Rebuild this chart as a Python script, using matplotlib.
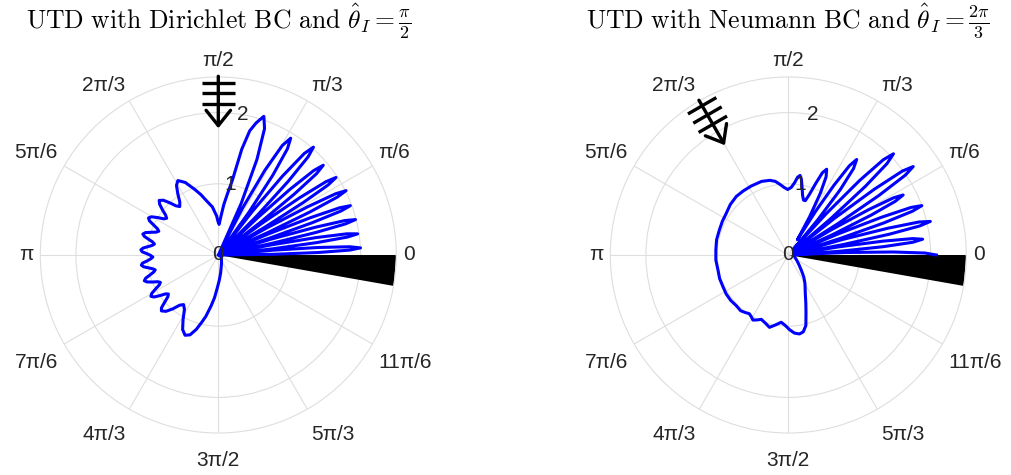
import numpy as np
import matplotlib.pyplot as plt

plt.rcParams['mathtext.fontset'] = 'cm'
plt.rcParams['font.family'] = ['Liberation Sans', 'DejaVu Sans']

# |E| versus observation angle (deg); wedge faces at 0 and 350 deg
dir_theta = [
    0, 0.72, 1.43, 2.15, 2.87, 3.59, 4.30, 5.02,
    5.74, 6.46, 7.19, 7.91, 8.63, 9.36, 10.09, 10.81,
    11.54, 12.28, 13.01, 13.75, 14.48, 15.23, 15.97, 16.72,
    17.46, 18.22, 18.98, 19.73, 20.49, 21.26, 22.04, 22.81,
    23.58, 24.37, 25.16, 25.95, 26.74, 27.56, 28.37, 29.19,
    30.0, 30.84, 31.69, 32.53, 33.37, 34.25, 35.12, 36.0,
    36.87, 37.79, 38.71, 39.62, 40.54, 41.51, 42.49, 43.46,
    44.43, 45.47, 46.51, 47.55, 48.59, 49.73, 50.86, 52.0,
    53.13, 54.40, 55.67, 56.94, 58.21, 59.70, 61.19, 62.67,
    64.16, 66.07, 67.99, 69.9, 71.81, 74.0, 75.8, 77.5,
    79.4, 81.5, 83.8, 86.0, 88.5, 90.5, 92.5, 97.0,
    102.3, 106.0, 109.8, 114.5, 118.5, 121.0, 123.5, 126.0,
    128.5, 130.7, 132.9, 135.1, 137.3, 139.1, 141.0, 142.8,
    144.6, 146.5, 148.3, 150.2, 152.0, 153.6, 155.1, 156.7,
    158.2, 159.8, 161.4, 162.9, 164.5, 165.9, 167.4, 168.8,
    170.3, 171.8, 173.3, 174.7, 176.2, 177.6, 179.0, 180.4,
    181.8, 183.2, 184.7, 186.1, 187.5, 189.0, 190.4, 191.9,
    193.3, 194.8, 196.3, 197.7, 199.2, 200.7, 202.3, 203.8,
    205.3, 206.9, 208.4, 210.0, 211.5, 213.1, 214.8, 216.4,
    218.0, 219.6, 221.3, 222.9, 224.5, 227.1, 229.8, 232.4,
    235.0, 238.1, 241.3, 244.4, 247.5, 250.5, 253.5, 256.0,
    258.5, 262.0, 265.0, 268.0, 272.0, 277.0, 283.0, 290.0,
    300.0, 315.0, 330.0, 342.0, 350.0,
]
dir_mag = [
    0.02, 0.77, 1.41, 1.85, 2.00, 1.85, 1.41, 0.77,
    0.03, 0.76, 1.40, 1.83, 1.98, 1.83, 1.40, 0.76,
    0.03, 0.77, 1.41, 1.84, 1.99, 1.84, 1.41, 0.77,
    0.03, 0.76, 1.40, 1.83, 1.98, 1.83, 1.40, 0.76,
    0.03, 0.77, 1.42, 1.86, 2.01, 1.86, 1.42, 0.77,
    0.03, 0.76, 1.40, 1.83, 1.98, 1.83, 1.40, 0.76,
    0.03, 0.75, 1.37, 1.79, 1.94, 1.79, 1.37, 0.75,
    0.03, 0.78, 1.43, 1.87, 2.02, 1.87, 1.43, 0.78,
    0.04, 0.74, 1.36, 1.78, 1.93, 1.78, 1.36, 0.74,
    0.05, 0.79, 1.45, 1.89, 2.05, 1.93, 1.80, 1.52,
    1.06, 0.87, 0.71, 0.55, 0.43, 0.47, 0.55, 0.68,
    0.78, 0.88, 0.98, 1.12, 1.19, 1.14, 1.03, 0.92,
    0.87, 0.91, 1.00, 1.09, 1.13, 1.09, 1.01, 0.93,
    0.89, 0.92, 1.00, 1.08, 1.11, 1.08, 1.00, 0.93,
    0.90, 0.93, 1.00, 1.07, 1.10, 1.07, 1.00, 0.94,
    0.91, 0.94, 1.00, 1.06, 1.09, 1.07, 1.00, 0.95,
    0.92, 0.95, 1.00, 1.07, 1.09, 1.06, 1.00, 0.94,
    0.91, 0.94, 1.00, 1.07, 1.10, 1.07, 1.00, 0.93,
    0.90, 0.93, 1.00, 1.08, 1.11, 1.08, 1.00, 0.92,
    0.89, 0.92, 1.00, 1.09, 1.12, 1.08, 0.99, 0.89,
    0.85, 0.90, 1.03, 1.16, 1.22, 1.19, 1.09, 0.98,
    0.88, 0.72, 0.60, 0.47, 0.36, 0.26, 0.18, 0.13,
    0.09, 0.06, 0.04, 0.02, 0.00,
]

neu_theta = [
    0, 0.83, 1.65, 2.48,
    3.3, 4.15, 5.0, 5.85, 6.7, 7.52, 8.33, 9.15,
    9.97, 10.8, 11.63, 12.47, 13.3, 14.18, 15.05, 15.93,
    16.8, 17.68, 18.55, 19.43, 20.3, 21.18, 22.05, 22.93,
    23.8, 24.75, 25.7, 26.65, 27.6, 28.53, 29.45, 30.38,
    31.3, 32.3, 33.3, 34.3, 35.3, 36.35, 37.4, 38.45,
    39.5, 40.6, 41.7, 42.8, 43.9, 45.08, 46.25, 47.43,
    48.6, 50.05, 51.5, 52.95, 54.4, 55.6, 56.8, 58.0,
    59.2, 60.9, 62.6, 64.2, 65.9, 67.5, 69.0, 70.8,
    72.6, 74.5, 76.5, 78.5, 80.2, 81.6, 83.2, 85.0,
    87.5, 90.5, 93.5, 96.8, 100.0, 103.8, 110.0, 118.3,
    125.0, 131.6, 139.0, 146.0, 153.0, 160.0, 168.0, 176.0,
    184.0, 192.0, 199.0, 206.0, 212.0, 218.3, 224.0, 229.5,
    233.0, 236.4, 239.0, 241.5, 244.5, 247.2, 251.5, 255.4,
    259.5, 264.0, 267.5, 271.0, 274.5, 278.0, 281.0, 284.0,
    287.0, 290.0, 293.5, 297.0, 300.5, 305.0, 310.0, 318.0,
    328.0, 340.0, 350.0,
]
neu_mag = [
    2.08, 1.92, 1.47, 0.80,
    0.08, 0.73, 1.34, 1.76, 1.90, 1.76, 1.34, 0.73,
    0.08, 0.79, 1.45, 1.89, 2.05, 1.89, 1.45, 0.79,
    0.08, 0.77, 1.41, 1.85, 2.00, 1.85, 1.41, 0.77,
    0.08, 0.70, 1.29, 1.68, 1.82, 1.68, 1.29, 0.70,
    0.09, 0.83, 1.52, 1.99, 2.15, 1.99, 1.52, 0.83,
    0.10, 0.79, 1.45, 1.89, 2.05, 1.89, 1.45, 0.79,
    0.12, 0.64, 1.17, 1.52, 1.65, 1.52, 1.17, 0.72,
    0.25, 0.62, 0.98, 1.22, 1.32, 1.25, 1.08, 0.90,
    0.80, 0.80, 0.86, 0.97, 1.08, 1.13, 1.10, 1.02,
    0.95, 0.92, 0.95, 1.00, 1.05, 1.08, 1.10, 1.10,
    1.10, 1.10, 1.08, 1.05, 1.04, 1.03, 1.03, 1.02,
    1.02, 1.01, 1.02, 1.02, 1.03, 1.03, 1.02, 1.03,
    1.01, 0.99, 1.01, 1.04, 1.01, 0.98, 1.01, 1.05,
    1.00, 0.95, 0.99, 1.05, 1.10, 1.12, 1.10, 1.02,
    0.85, 0.72, 0.60, 0.52, 0.46, 0.38, 0.29, 0.20,
    0.14, 0.10, 0.09,
]

curves_theta = [dir_theta, neu_theta]
curves_mag = [dir_mag, neu_mag]
incidence_deg = [90, 120]
wedge_deg = 10
r_max = 2.5
r_ticks = [0, 1, 2]
theta_ticks_deg = list(range(0, 360, 30))
theta_labels = ['0', 'π/6', 'π/3', 'π/2', '2π/3', '5π/6',
                'π', '7π/6', '4π/3', '3π/2', '5π/3', '11π/6']
titles = [
    r'$\mathrm{UTD\ with\ Dirichlet\ BC\ and\ }\hat{\theta}_I=\frac{\pi}{2}$',
    r'$\mathrm{UTD\ with\ Neumann\ BC\ and\ }\hat{\theta}_I=\frac{2\pi}{3}$',
]

W, H = 1012, 475
centres_x = [218.3, 788.3]
centre_y = 255
rad_px = 178
label_r = 2.6
grid_col = '#dedede'
text_col = '#262626'


def to_polar(x, y):
    return np.arctan2(y, x), np.hypot(x, y)


def draw_incidence(ax, deg):
    # plane-wave symbol: shaft, three wavefront bars and an open head
    th = np.deg2rad(deg)
    ax.annotate('', xy=(th, 1.78), xytext=(th, 2.51),
                arrowprops=dict(arrowstyle='->,head_length=0.5,head_width=0.4',
                                lw=2.4, color='k', shrinkA=0, shrinkB=0,
                                mutation_scale=22))
    ux, uy = np.cos(th), np.sin(th)
    px, py = -uy, ux
    for rb in [2.42, 2.27, 2.12]:
        xs = [rb * ux - 0.23 * px, rb * ux + 0.23 * px]
        ys = [rb * uy - 0.23 * py, rb * uy + 0.23 * py]
        t, r = to_polar(np.array(xs), np.array(ys))
        ax.plot(t, r, color='k', lw=2.4, solid_capstyle='butt', clip_on=False)


def theta_labels_outside(ax):
    # labels anchored just past the rim, aligned away from the centre;
    # the lower ones get pushed a little further down
    for deg, lab in zip(theta_ticks_deg, theta_labels):
        th = np.deg2rad(deg)
        c, s = np.cos(th), np.sin(th)
        ha = 'left' if c > 0.01 else ('right' if c < -0.01 else 'center')
        va = 'bottom' if s > 0.01 else ('top' if s < -0.01 else 'center')
        dy = -8 * abs(s) if s < -0.01 else 0
        ax.annotate(lab, xy=(th, label_r), xytext=(0, dy),
                    textcoords='offset points', fontsize=15, color=text_col,
                    ha=ha, va=va, annotation_clip=False)


fig = plt.figure(figsize=(W / 100, H / 100), dpi=100)

for i in range(2):
    cx = centres_x[i]
    ax = fig.add_axes([(cx - rad_px) / W, (H - centre_y - rad_px) / H,
                       2 * rad_px / W, 2 * rad_px / H], projection='polar')

    # wedge occupying the last 10 degrees below the x axis
    ax.fill(np.deg2rad([0, 0, -wedge_deg]), [0, r_max, r_max],
            color='k', lw=0, zorder=2)
    ax.plot(np.deg2rad(curves_theta[i]), curves_mag[i],
            color='#0000ff', lw=2.2, zorder=3)
    draw_incidence(ax, incidence_deg[i])

    ax.set_rlim(0, r_max)
    ax.set_rticks(r_ticks)
    ax.set_yticklabels([])
    ax.set_xticks(np.deg2rad(theta_ticks_deg))
    ax.set_xticklabels([])
    ax.tick_params(axis='both', length=0)
    ax.grid(True, color=grid_col, lw=0.8)
    ax.spines['polar'].set_color(grid_col)
    ax.spines['polar'].set_linewidth(0.8)
    theta_labels_outside(ax)
    for rt in r_ticks:
        ax.text(np.deg2rad(80), rt, str(rt), fontsize=15, color=text_col,
                ha='center', va='center', zorder=4)

    fig.text(cx / W, 1 - 21 / H, titles[i], fontsize=18.5,
             ha='center', va='center', color='k')

fig.savefig('out.png', dpi=100)
